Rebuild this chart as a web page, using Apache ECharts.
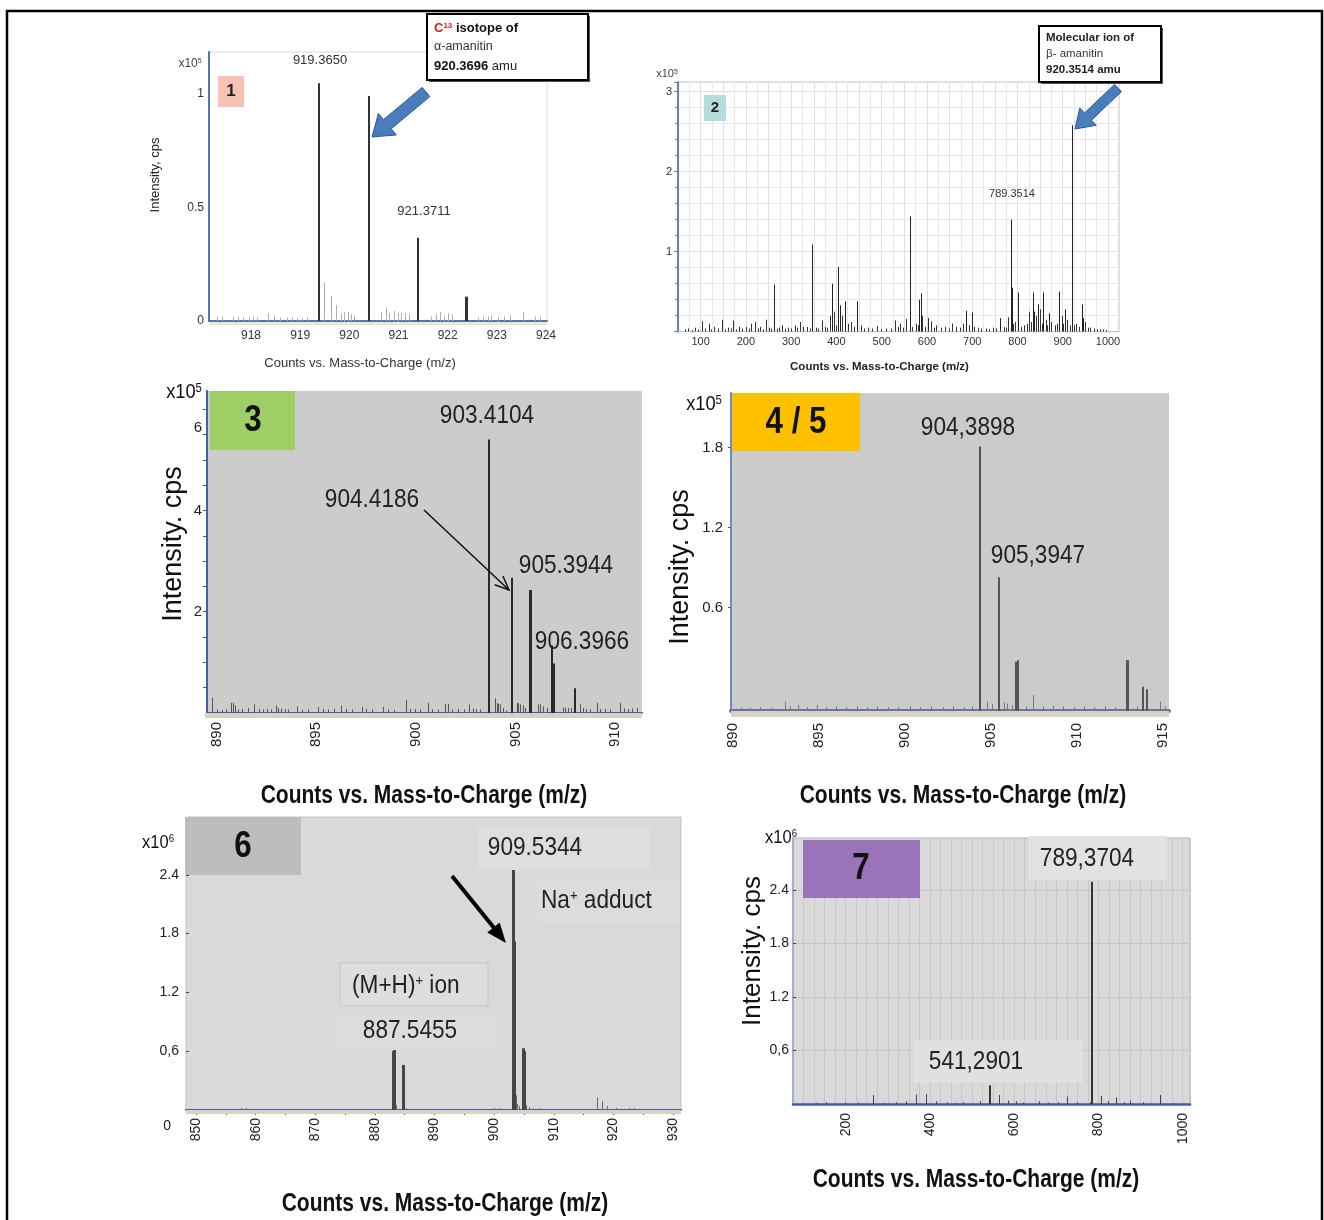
<!DOCTYPE html>
<html><head><meta charset="utf-8">
<script src="https://cdn.jsdelivr.net/npm/echarts@6/dist/echarts.min.js"></script>
<style>html,body{margin:0;padding:0;background:#fff}#c{width:1324px;height:1220px}</style>
</head><body><div id="c"></div>
<script>
// ---------------- DATA ----------------
// Panel 1 (alpha-amanitin isotope cluster) [m/z, intensity x1e5]
const p1Main = [[919.383,1.047],[920.394,0.991],[921.403,0.367],[922.37,0.107],[922.387,0.107]];
const p1Minor = [[917.31,0.02],[917.42,0.02],[917.64,0.02],[917.74,0.02],[917.84,0.015],[917.95,0.015],[918.05,0.02],[918.13,0.015],[918.35,0.035],[918.47,0.025],[918.59,0.015],[918.73,0.015],[918.83,0.015],[918.93,0.015],[919.03,0.012],[919.13,0.015],[919.485,0.169],[919.62,0.11],[919.73,0.07],[919.83,0.03],[919.9,0.04],[919.97,0.04],[920.03,0.03],[920.1,0.025],[920.64,0.04],[920.75,0.06],[920.81,0.035],[920.91,0.045],[920.98,0.035],[921.06,0.035],[921.13,0.035],[921.22,0.03],[921.67,0.02],[921.76,0.03],[921.84,0.04],[921.93,0.025],[922.01,0.035],[922.08,0.03],[922.62,0.015],[922.72,0.02],[922.81,0.02],[922.88,0.025],[923.03,0.02],[923.15,0.02],[923.27,0.025],[923.54,0.04],[923.78,0.02],[923.88,0.02]];
const p1XLabels = [918,919,920,921,922,923,924];
const p1YLabels = [0,0.5,1];

// Panel 2 (beta-amanitin full scan) [m/z, intensity x1e5]
const p2Main = [[262,0.59],[347,1.09],[391,0.60],[404,0.81],[407,0.33],[418,0.38],[446,0.38],[562,1.44],[562.5,0.40],[583,0.40],[586,0.48],[602,0.17],[686,0.26],[699,0.24],[761,0.17],[786,1.40],[787,0.55],[802,0.49],[835,0.49],[836,0.25],[845,0.34],[857,0.49],[870,0.23],[892,0.50],[905,0.28],[920,2.58],[921,1.22],[942,0.34],[945,0.17]];
const p2Noise = [[66,0.03],[72,0.04],[80,0.02],[88,0.05],[95,0.03],[104,0.13],[110,0.04],[118,0.10],[124,0.03],[130,0.06],[138,0.04],[148,0.15],[154,0.03],[160,0.05],[166,0.04],[172,0.14],[178,0.03],[185,0.06],[192,0.04],[200,0.06],[206,0.04],[212,0.10],[220,0.12],[226,0.04],[232,0.06],[238,0.03],[245,0.15],[250,0.05],[256,0.04],[268,0.04],[274,0.05],[280,0.08],[286,0.04],[293,0.05],[300,0.04],[308,0.08],[314,0.05],[320,0.12],[326,0.06],[335,0.06],[341,0.04],[354,0.05],[360,0.04],[368,0.14],[375,0.06],[380,0.05],[385,0.20],[395,0.25],[400,0.08],[412,0.20],[425,0.10],[432,0.12],[438,0.06],[455,0.08],[462,0.04],[470,0.05],[478,0.04],[490,0.07],[498,0.03],[510,0.04],[520,0.04],[530,0.14],[535,0.06],[540,0.10],[547,0.05],[553,0.16],[568,0.06],[575,0.10],[580,0.08],[590,0.20],[596,0.06],[610,0.13],[615,0.05],[620,0.08],[630,0.05],[640,0.06],[648,0.04],[655,0.10],[665,0.06],[672,0.05],[680,0.10],[692,0.08],[705,0.06],[712,0.05],[720,0.04],[730,0.04],[738,0.03],[745,0.05],[752,0.04],[770,0.06],[775,0.05],[780,0.18],[790,0.10],[795,0.12],[808,0.06],[815,0.08],[820,0.10],[825,0.25],[830,0.12],[840,0.20],[850,0.28],[854,0.10],[862,0.15],[866,0.08],[875,0.12],[882,0.08],[887,0.10],[898,0.20],[901,0.10],[910,0.15],[915,0.08],[925,0.08],[930,0.10],[935,0.06],[950,0.12],[955,0.05],[960,0.05],[968,0.04],[975,0.03],[982,0.03],[990,0.03],[996,0.02]];
const p2YLabels = [1,2,3];

// Panel 3 [m/z, intensity x1e5]
const p3Main = [[903.69,5.40],[904.81,2.67],[905.73,2.43],[905.80,2.43],[906.85,1.34],[906.94,0.98],[907.99,0.49]];
const p3Noise = [[889.78,0.3],[890.0,0.07],[890.25,0.06],[890.45,0.07],[890.72,0.2],[890.8,0.2],[890.9,0.15],[891.05,0.07],[891.25,0.08],[891.59,0.1],[891.89,0.17],[892.1,0.08],[892.3,0.07],[892.5,0.08],[892.7,0.07],[892.98,0.15],[893.1,0.1],[893.25,0.09],[893.45,0.08],[893.6,0.07],[894.02,0.13],[894.3,0.06],[894.6,0.07],[895.1,0.12],[895.35,0.08],[895.6,0.07],[895.9,0.08],[896.23,0.15],[896.5,0.08],[896.8,0.07],[897.28,0.12],[897.5,0.08],[897.8,0.07],[898.37,0.12],[898.6,0.07],[898.9,0.06],[899.5,0.26],[899.7,0.08],[899.95,0.08],[900.2,0.07],[900.6,0.2],[900.8,0.07],[901.1,0.07],[901.47,0.18],[901.6,0.18],[901.8,0.07],[902.1,0.08],[902.4,0.07],[902.67,0.17],[902.85,0.09],[903.0,0.08],[903.2,0.07],[903.97,0.29],[904.06,0.2],[904.14,0.18],[904.22,0.17],[904.39,0.1],[904.55,0.05],[905.06,0.2],[905.14,0.19],[905.22,0.17],[905.39,0.15],[905.47,0.1],[906.15,0.17],[906.23,0.17],[906.4,0.13],[906.57,0.1],[907.4,0.11],[907.5,0.1],[907.65,0.1],[907.8,0.1],[908.24,0.17],[908.41,0.1],[908.55,0.08],[908.74,0.07],[909.1,0.2],[909.25,0.08],[909.5,0.08],[909.75,0.07],[910.25,0.2],[910.45,0.09],[910.65,0.08],[910.85,0.09],[911.1,0.1]];
const p3XLabels = [890,895,900,905,910];
const p3XTicks = [890,891,892,893,894,895,896,897,898,899,900,901,902,903,904,905,906,907,908,909,910,911];
const p3YLabels = [2,4,6];
const p3YTicks = [0.5,1,1.5,2,2.5,3,3.5,4,4.5,5,5.5,6];

// Panel 4/5 [m/z, intensity x1e5]
const p4Main = [[904.36,1.808],[905.48,0.828],[906.45,0.195],[906.58,0.205],[912.87,0.205],[912.97,0.205],[913.84,0.007],[914.04,-0.012]];
const p4Noise = [[890.5,-0.15],[891.0,-0.15],[891.6,-0.145],[892.2,-0.15],[893.04,-0.105],[893.3,-0.14],[893.8,-0.13],[894.3,-0.145],[894.9,-0.13],[895.4,-0.145],[896.0,-0.14],[896.6,-0.145],[897.2,-0.14],[897.8,-0.145],[898.4,-0.14],[899.0,-0.145],[899.6,-0.145],[900.3,-0.14],[900.9,-0.145],[901.5,-0.14],[902.2,-0.145],[902.8,-0.14],[903.4,-0.145],[903.9,-0.14],[904.75,-0.105],[905.04,-0.125],[905.77,-0.11],[905.9,-0.12],[906.2,-0.13],[907.0,-0.14],[907.45,-0.055],[908.0,-0.14],[908.6,-0.135],[909.2,-0.14],[909.8,-0.145],[910.4,-0.14],[911.0,-0.145],[911.6,-0.14],[912.2,-0.145],[913.5,-0.14],[914.81,-0.105],[915.1,-0.14]];
const p4XLabels = [890,895,900,905,910,915];
const p4XTicks = [890,891,892,893,894,895,896,897,898,899,900,901,902,903,904,905,906,907,908,909,910,911,912,913,914,915];
const p4YLabels = [0.6,1.2,1.8];

// Panel 6 [m/z, intensity x1e6]
const p6Main = [[883.0,0.60],[883.2,0.62],[884.7,0.46],[903.1,2.49],[903.3,1.72],[904.8,0.63],[904.95,0.60]];
const p6Noise = [[857.6,0.02],[858.3,0.02],[883.6,0.05],[885.3,0.02],[900.0,0.02],[901.0,0.02],[903.6,0.15],[903.9,0.06],[904.2,0.04],[905.3,0.05],[905.8,0.03],[906.5,0.02],[907.5,0.02],[917.2,0.13],[918.1,0.09],[919.0,0.04],[920.5,0.02],[922.6,0.02],[923.5,0.02]];
const p6XLabels = [850,860,870,880,890,900,910,920,930];
const p6XTicks = [850,855,860,865,870,875,880,885,890,895,900,905,910,915,920,925,930];
const p6YLabels = [0,0.6,1.2,1.8,2.4];

// Panel 7 [m/z, intensity x1e6]
const p7Main = [[785.6,2.49],[541.8,0.21]];
const p7Noise = [[130,0.01],[154,0.02],[197.6,0.015],[230,0.015],[264.9,0.10],[290,0.01],[320,0.02],[344,0.03],[367.8,0.105],[391.6,0.11],[415,0.03],[440,0.02],[460,0.01],[478,0.02],[518,0.03],[563.2,0.10],[585.3,0.04],[605,0.03],[620,0.015],[660,0.03],[680,0.015],[704,0.02],[725.4,0.085],[750,0.02],[779,0.02],[807,0.09],[822,0.03],[842.6,0.075],[860,0.02],[874.2,0.04],[906,0.02],[945.4,0.10],[980,0.01]];
const p7XLabels = [200,400,600,800,1000];
const p7YLabels = [0.6,1.2,1.8,2.4];

const xName = 'Counts vs. Mass-to-Charge (m/z)';
const yNameA = 'Intensity, cps';
const yNameB = 'Intensity. cps';

// ---------------- STYLE / HELPERS ----------------
const ARIAL = "'Liberation Sans',Arial,sans-serif";
const SQ = 0.87;  // horizontal squeeze to imitate a narrow face
const BLUE = '#4262a6';

function sticks(idx, pts, color, width, base, z) {
  return {
    type: 'custom', xAxisIndex: idx, yAxisIndex: idx, clip: true, silent: true, z: z || 3,
    data: pts,
    renderItem(params, api) {
      const x = api.value(0), y = api.value(1);
      const a = api.coord([x, base]), b = api.coord([x, y]);
      const px = Math.round(a[0]) + (width % 2 ? 0.5 : 0);
      return {type: 'line', shape: {x1: px, y1: a[1], x2: px, y2: b[1]}, style: {stroke: color, lineWidth: width}};
    }
  };
}
function blockArrow(tx, ty, hx, hy, sw, hw, hl) {
  const dx = hx - tx, dy = hy - ty, L = Math.hypot(dx, dy), ux = dx / L, uy = dy / L, nx = -uy, ny = ux;
  const bx = hx - ux * hl, by = hy - uy * hl;
  return [[tx + nx * sw / 2, ty + ny * sw / 2], [bx + nx * sw / 2, by + ny * sw / 2], [bx + nx * hw / 2, by + ny * hw / 2], [hx, hy],
          [bx - nx * hw / 2, by - ny * hw / 2], [bx - nx * sw / 2, by - ny * sw / 2], [tx - nx * sw / 2, ty - ny * sw / 2]];
}
function headPts(tx, ty, hx, hy, hl, hw) {
  const dx = hx - tx, dy = hy - ty, L = Math.hypot(dx, dy), ux = dx / L, uy = dy / L, nx = -uy, ny = ux;
  const bx = hx - ux * hl, by = hy - uy * hl;
  return [[bx + nx * hw / 2, by + ny * hw / 2], [hx, hy], [bx - nx * hw / 2, by - ny * hw / 2]];
}
function txt(x, y, text, font, opt, extra) {
  return Object.assign({type: 'text', x, y, z: 50, style: Object.assign({text, font, fill: '#222', align: 'center', verticalAlign: 'middle'}, opt || {})}, extra || {});
}
function txtN(x, y, text, font, opt) { return txt(x, y, text, font, opt, {scaleX: SQ}); }
function rich(x, y, text, richDef, opt, extra) {
  return Object.assign({type: 'text', x, y, z: 50, style: Object.assign({text, rich: richDef, align: 'left', verticalAlign: 'middle'}, opt || {})}, extra || {});
}
function box(x, y, w, h, fill, stroke, lw) {
  return {type: 'rect', z: 40, shape: {x, y, width: w, height: h}, style: {fill: fill, stroke: stroke || null, lineWidth: lw || 0}};
}
function expo(x, y, base, exp, size, color, sq) {
  return rich(x, y, '{a|' + base + '}{b|' + exp + '}', {
    a: {fontFamily: ARIAL, fontSize: size, fill: color || '#222', verticalAlign: 'bottom'},
    b: {fontFamily: ARIAL, fontSize: Math.round(size * 0.6), fill: color || '#222', verticalAlign: 'top'}
  }, {align: 'center'}, {scaleX: sq || 1});
}
const fmtComma = v => (Math.abs(v - 0.6) < 1e-9 ? '0,6' : (+v).toFixed(1));

// ---------------- OPTION ----------------
const grids = [
  {left: 209, top: 52, width: 338, height: 269, show: true, backgroundColor: '#fff', borderColor: '#dadada', borderWidth: 1},
  {left: 678, top: 82, width: 441, height: 249.7, show: true, backgroundColor: '#fff', borderColor: '#b8c3da', borderWidth: 1},
  {left: 207, top: 391, width: 435, height: 322, show: true, backgroundColor: '#cccccc', borderColor: '#cccccc', borderWidth: 0},
  {left: 731, top: 393, width: 438, height: 318, show: true, backgroundColor: '#cbcbcb', borderColor: '#cbcbcb', borderWidth: 0},
  {left: 186, top: 817, width: 495, height: 293, show: true, backgroundColor: '#d9d9d9', borderColor: '#b9c3d6', borderWidth: 1},
  {left: 793, top: 838, width: 397, height: 266, show: true, backgroundColor: '#d9d9d9', borderColor: '#a9b5d0', borderWidth: 1}
];

const xAxes = [
  {type: 'value', gridIndex: 0, min: 917.146, max: 924.02, splitLine: {show: false},
   axisLine: {onZero: false, lineStyle: {color: '#5574ad', width: 2}},
   axisTick: {show: true, customValues: p1XLabels, length: 3, lineStyle: {color: '#999'}},
   axisLabel: {customValues: p1XLabels, fontFamily: ARIAL, fontSize: 12, color: '#333', margin: 9},
   name: xName, nameLocation: 'middle', nameGap: 36, nameTextStyle: {fontFamily: ARIAL, fontSize: 13, color: '#333', padding: [0, 36, 0, 0]}},
  {type: 'value', gridIndex: 1, min: 50, max: 1024.3, interval: 50,
   splitLine: {show: true, lineStyle: {color: '#e0e0e0', width: 1}},
   minorTick: {show: false, splitNumber: 2}, minorSplitLine: {show: true, lineStyle: {color: '#e9e9e9', width: 1}},
   axisLine: {onZero: false, lineStyle: {color: '#b8c3da', width: 1}}, axisTick: {show: false},
   axisLabel: {formatter: v => (v % 100 === 0 ? String(v) : ''), fontFamily: ARIAL, fontSize: 11, color: '#333', margin: 5},
   name: xName, nameLocation: 'middle', nameGap: 29, nameTextStyle: {fontFamily: ARIAL, fontSize: 11.5, fontWeight: 'bold', color: '#222', padding: [0, 38, 0, 0]}},
  {type: 'value', gridIndex: 2, min: 889.51, max: 911.36, splitLine: {show: false},
   axisLine: {onZero: false, lineStyle: {color: BLUE, width: 2}},
   axisTick: {show: true, customValues: p3XTicks, length: 5, lineStyle: {color: '#555'}},
   axisLabel: {customValues: p3XLabels, rotate: 90, fontFamily: ARIAL, fontSize: 15, color: '#222', margin: 9}},
  {type: 'value', gridIndex: 3, min: 889.9, max: 915.33, splitLine: {show: false},
   axisLine: {onZero: false, lineStyle: {color: '#62779f', width: 4}},
   axisTick: {show: true, customValues: p4XTicks, length: 5, lineStyle: {color: '#555'}},
   axisLabel: {customValues: p4XLabels, rotate: 90, fontFamily: ARIAL, fontSize: 15, color: '#222', margin: 12}},
  {type: 'value', gridIndex: 4, min: 848.32, max: 931.34, splitLine: {show: false},
   axisLine: {onZero: false, lineStyle: {color: BLUE, width: 2}},
   axisTick: {show: true, customValues: p6XTicks, length: 5, lineStyle: {color: '#555'}},
   axisLabel: {customValues: p6XLabels, rotate: 90, fontFamily: ARIAL, fontSize: 14, color: '#222', margin: 8}},
  {type: 'value', gridIndex: 5, min: 75, max: 1017.4, interval: 25,
   splitLine: {show: true, lineStyle: {color: '#c6c6c6', width: 1}},
   axisLine: {onZero: false, lineStyle: {color: BLUE, width: 2.5}}, axisTick: {show: false},
   axisLabel: {customValues: p7XLabels, formatter: v => String(v), rotate: 90, fontFamily: ARIAL, fontSize: 14, color: '#222', margin: 9}}
];

const yAxes = [
  {type: 'value', gridIndex: 0, min: 0, max: 1.185, splitLine: {show: false},
   axisLine: {show: true, lineStyle: {color: '#5574ad', width: 2}}, axisTick: {show: false},
   axisLabel: {customValues: p1YLabels, fontFamily: ARIAL, fontSize: 12, color: '#333', margin: 5},
   name: yNameA, nameLocation: 'middle', nameGap: 47, nameRotate: 90,
   nameTextStyle: {fontFamily: ARIAL, fontSize: 13, color: '#222', padding: [0, 0, 0, 23]}},
  {type: 'value', gridIndex: 1, min: 0, max: 3.12, interval: 1,
   splitLine: {show: true, lineStyle: {color: '#e0e0e0'}},
   minorTick: {show: true, splitNumber: 5, length: 3, lineStyle: {color: '#6a7db8'}},
   minorSplitLine: {show: true, lineStyle: {color: '#e9e9e9'}},
   axisLine: {show: true, lineStyle: {color: '#6a7db8', width: 2}}, axisTick: {show: true, length: 4, lineStyle: {color: '#6a7db8'}},
   axisLabel: {customValues: p2YLabels, fontFamily: ARIAL, fontSize: 11, color: '#333', margin: 6}},
  {type: 'value', gridIndex: 2, min: 0, max: 6.36, splitLine: {show: false},
   axisLine: {show: true, lineStyle: {color: BLUE, width: 2}},
   axisTick: {show: true, customValues: p3YTicks, length: 4, lineStyle: {color: '#555'}},
   axisLabel: {customValues: p3YLabels, fontFamily: ARIAL, fontSize: 15, color: '#222', margin: 5,
     formatter: v => (v === 6 ? '{d|6}' : String(v)), rich: {d: {fontFamily: ARIAL, fontSize: 15, color: '#222', padding: [37, 0, 0, 0]}}},
   name: yNameB, nameLocation: 'middle', nameGap: 20, nameRotate: 90,
   nameTextStyle: {fontFamily: ARIAL, fontSize: 27, color: '#111', padding: [0, 0, 0, 16]}},
  {type: 'value', gridIndex: 3, min: -0.175, max: 2.21, splitLine: {show: false},
   axisLine: {show: true, lineStyle: {color: '#6f8cc0', width: 2}},
   axisTick: {show: true, customValues: p4YLabels, length: 3, lineStyle: {color: '#555'}},
   axisLabel: {customValues: p4YLabels, fontFamily: ARIAL, fontSize: 15, color: '#222', margin: 8, formatter: v => (+v).toFixed(1)},
   name: yNameB, nameLocation: 'middle', nameGap: 37, nameRotate: 90,
   nameTextStyle: {fontFamily: ARIAL, fontSize: 27, color: '#111', padding: [0, 30, 0, 0]}},
  {type: 'value', gridIndex: 4, min: 0, max: 2.99, splitLine: {show: false},
   axisLine: {show: false}, axisTick: {show: true, customValues: p6YLabels, length: 3, inside: true, lineStyle: {color: '#444'}},
   axisLabel: {customValues: p6YLabels, fontFamily: ARIAL, fontSize: 14, color: '#222', margin: 7,
     formatter: v => (v === 0 ? '{z|0}' : fmtComma(v)), rich: {z: {fontFamily: ARIAL, fontSize: 14, color: '#222', padding: [32, 8, 0, 0]}}}},
  {type: 'value', gridIndex: 5, min: 0, max: 2.98, interval: 0.2,
   splitLine: {show: true, lineStyle: {color: '#c6c6c6', width: 1}},
   axisLine: {show: true, lineStyle: {color: '#93a4cc', width: 1.5}}, axisTick: {show: true, customValues: p7YLabels, length: 3, inside: true, lineStyle: {color: '#444'}},
   axisLabel: {customValues: p7YLabels, fontFamily: ARIAL, fontSize: 14, color: '#222', margin: 4, formatter: fmtComma},
   name: yNameB, nameLocation: 'middle', nameGap: 25, nameRotate: 90,
   nameTextStyle: {fontFamily: ARIAL, fontSize: 26, color: '#111', padding: [0, 0, 0, 40]}}
];

const series = [
  sticks(0, p1Minor, '#b0b0b0', 1, 0),
  sticks(0, p1Main, '#333333', 2, 0, 4),
  sticks(1, p2Noise, '#333333', 1, 0),
  sticks(1, p2Main, '#222222', 1, 0, 4),
  sticks(2, p3Noise, '#555555', 1, 0),
  sticks(2, p3Main, '#2a2a2a', 2, 0, 4),
  sticks(3, p4Noise, '#777777', 1, -0.175),
  sticks(3, p4Main, '#555555', 2, -0.175, 4),
  sticks(4, p6Noise, '#666666', 1, 0),
  sticks(4, p6Main, '#444444', 3, 0, 4),
  sticks(5, p7Noise, '#444444', 1, 0),
  sticks(5, p7Main, '#333333', 2, 0, 4)
];

const BOLDX = 'bold 25px ' + ARIAL;
const graphic = [
  // outer frame
  {type: 'rect', z: 100, shape: {x: 7, y: 11, width: 1315, height: 1240}, style: {fill: 'none', stroke: '#000', lineWidth: 2.5}},
  // ---- panel 1
  box(209, 322, 338, 3, '#e4ebd2'),
  box(218, 76, 26, 31, '#f7c4b4'),
  txt(231, 91, '1', 'bold 17px ' + ARIAL, {fill: '#222'}),
  expo(190, 64, 'x10', '5', 12, '#444'),
  txt(320, 60, '919.3650', '13px ' + ARIAL, {fill: '#333'}),
  txt(424, 211, '921.3711', '13px ' + ARIAL, {fill: '#333'}),
  box(429, 16, 161, 66, '#555'),
  box(427, 14, 161, 66, '#fff', '#000', 2),
  rich(434, 28, '{r|C}{rs|13}{b| isotope of}', {
    r: {fontFamily: ARIAL, fontSize: 13, fontWeight: 'bold', fill: '#e0201b', verticalAlign: 'bottom'},
    rs: {fontFamily: ARIAL, fontSize: 8, fontWeight: 'bold', fill: '#e0201b', verticalAlign: 'top'},
    b: {fontFamily: ARIAL, fontSize: 13, fontWeight: 'bold', fill: '#111', verticalAlign: 'bottom'}}),
  txt(434, 47, 'α-amanitin', '12.5px ' + ARIAL, {align: 'left', fill: '#333'}),
  rich(434, 66, '{b|920.3696}{n| amu}', {
    b: {fontFamily: ARIAL, fontSize: 13, fontWeight: 'bold', fill: '#111'},
    n: {fontFamily: ARIAL, fontSize: 13, fill: '#222'}}),
  {type: 'polygon', z: 45, shape: {points: blockArrow(426, 92, 372, 137, 12, 28, 20)}, style: {fill: '#4a7dbd', stroke: '#2e5a91', lineWidth: 1}},
  // ---- panel 2
  box(704, 95, 22, 26, '#b5dcdc'),
  txt(715, 108, '2', 'bold 15px ' + ARIAL, {fill: '#222'}),
  expo(667, 74, 'x10', '5', 11, '#444'),
  txt(1012, 194, '789.3514', '11px ' + ARIAL, {fill: '#333'}),
  box(1041, 28, 122, 56, '#555'),
  box(1039, 26, 122, 56, '#fff', '#000', 2),
  txt(1046, 38, 'Molecular ion of', 'bold 11.5px ' + ARIAL, {align: 'left', fill: '#222'}),
  txt(1046, 54, 'β- amanitin', '11.5px ' + ARIAL, {align: 'left', fill: '#333'}),
  txt(1046, 70, '920.3514 amu', 'bold 11.5px ' + ARIAL, {align: 'left', fill: '#222'}),
  {type: 'polygon', z: 45, shape: {points: blockArrow(1118, 88, 1075, 129, 10, 24, 18)}, style: {fill: '#4a7dbd', stroke: '#2e5a91', lineWidth: 1}},
  // ---- panel 3
  box(205, 713, 437, 5, '#d6d2c8'),
  box(210, 391, 85, 59, '#9dcf66'),
  txtN(253, 421, '3', 'bold 36px ' + ARIAL, {fill: '#111'}),
  expo(184, 392, 'x10', '5', 21, '#111', SQ),
  txtN(487, 416, '903.4104', '26px ' + ARIAL),
  txtN(372, 500, '904.4186', '26px ' + ARIAL),
  txtN(566, 566, '905.3944', '26px ' + ARIAL),
  txtN(582, 642, '906.3966', '26px ' + ARIAL),
  {type: 'line', z: 45, shape: {x1: 424, y1: 510, x2: 509, y2: 590}, style: {stroke: '#111', lineWidth: 1.5}},
  {type: 'polyline', z: 45, shape: {points: headPts(424, 510, 509, 590, 14, 12)}, style: {stroke: '#111', lineWidth: 1.5, fill: null}},
  txt(424, 796, xName, BOLDX, {fill: '#111'}, {scaleX: 0.84}),
  // ---- panel 4/5
  box(731, 711, 438, 6, '#d6d2c8'),
  box(732, 393, 128, 58, '#ffc000'),
  txtN(796, 423, '4 / 5', 'bold 36px ' + ARIAL, {fill: '#111'}),
  expo(704, 404, 'x10', '5', 21, '#111', SQ),
  txtN(968, 428, '904,3898', '26px ' + ARIAL),
  txtN(1038, 556, '905,3947', '26px ' + ARIAL),
  txt(963, 796, xName, BOLDX, {fill: '#111'}, {scaleX: 0.84}),
  // ---- panel 6
  box(186, 1110, 495, 4, '#d6d2c8'),
  box(185, 817, 116, 58, '#bdbdbd'),
  txtN(243, 847, '6', 'bold 36px ' + ARIAL, {fill: '#111'}),
  expo(158, 843, 'x10', '6', 19, '#111', SQ),
  box(478, 826, 172, 44, '#dedede'),
  txtN(535, 848, '909.5344', '26px ' + ARIAL),
  box(537, 880, 143, 45, '#dcdcdc'),
  rich(541, 901, '{n|Na}{s|+}{n| adduct}', {
    n: {fontFamily: ARIAL, fontSize: 26, fill: '#222', verticalAlign: 'bottom'},
    s: {fontFamily: ARIAL, fontSize: 15, fill: '#222', verticalAlign: 'top'}}, null, {scaleX: SQ}),
  box(340, 963, 148, 43, '#dddddd', '#c4c4c4', 1),
  rich(352, 986, '{n|(M+H)}{s|+}{n| ion}', {
    n: {fontFamily: ARIAL, fontSize: 26, fill: '#222', verticalAlign: 'bottom'},
    s: {fontFamily: ARIAL, fontSize: 15, fill: '#222', verticalAlign: 'top'}}, null, {scaleX: SQ}),
  box(337, 1010, 158, 40, '#dcdcdc'),
  txtN(410, 1031, '887.5455', '26px ' + ARIAL),
  {type: 'line', z: 45, shape: {x1: 452, y1: 876, x2: 499, y2: 934}, style: {stroke: '#000', lineWidth: 4}},
  {type: 'polygon', z: 45, shape: {points: headPts(452, 876, 506, 943, 20, 16)}, style: {fill: '#000'}},
  txt(445, 1204, xName, BOLDX, {fill: '#111'}, {scaleX: 0.84}),
  // ---- panel 7
  box(803, 840, 117, 58, '#9b73b9'),
  txtN(861, 869, '7', 'bold 36px ' + ARIAL, {fill: '#111'}),
  expo(781, 838, 'x10', '6', 19, '#111', SQ),
  box(1028, 836, 139, 44, '#e2e2e2'),
  txtN(1087, 859, '789,3704', '26px ' + ARIAL),
  box(913, 1040, 170, 43, '#e0e0e0'),
  txtN(976, 1062, '541,2901', '26px ' + ARIAL),
  txt(976, 1180, xName, BOLDX, {fill: '#111'}, {scaleX: 0.84})
];

const chart = echarts.init(document.getElementById('c'), null, {renderer: 'canvas'});
chart.setOption({
  backgroundColor: '#ffffff',
  animation: false,
  grid: grids,
  xAxis: xAxes,
  yAxis: yAxes,
  series: series,
  graphic: {elements: graphic}
});
</script></body></html>
